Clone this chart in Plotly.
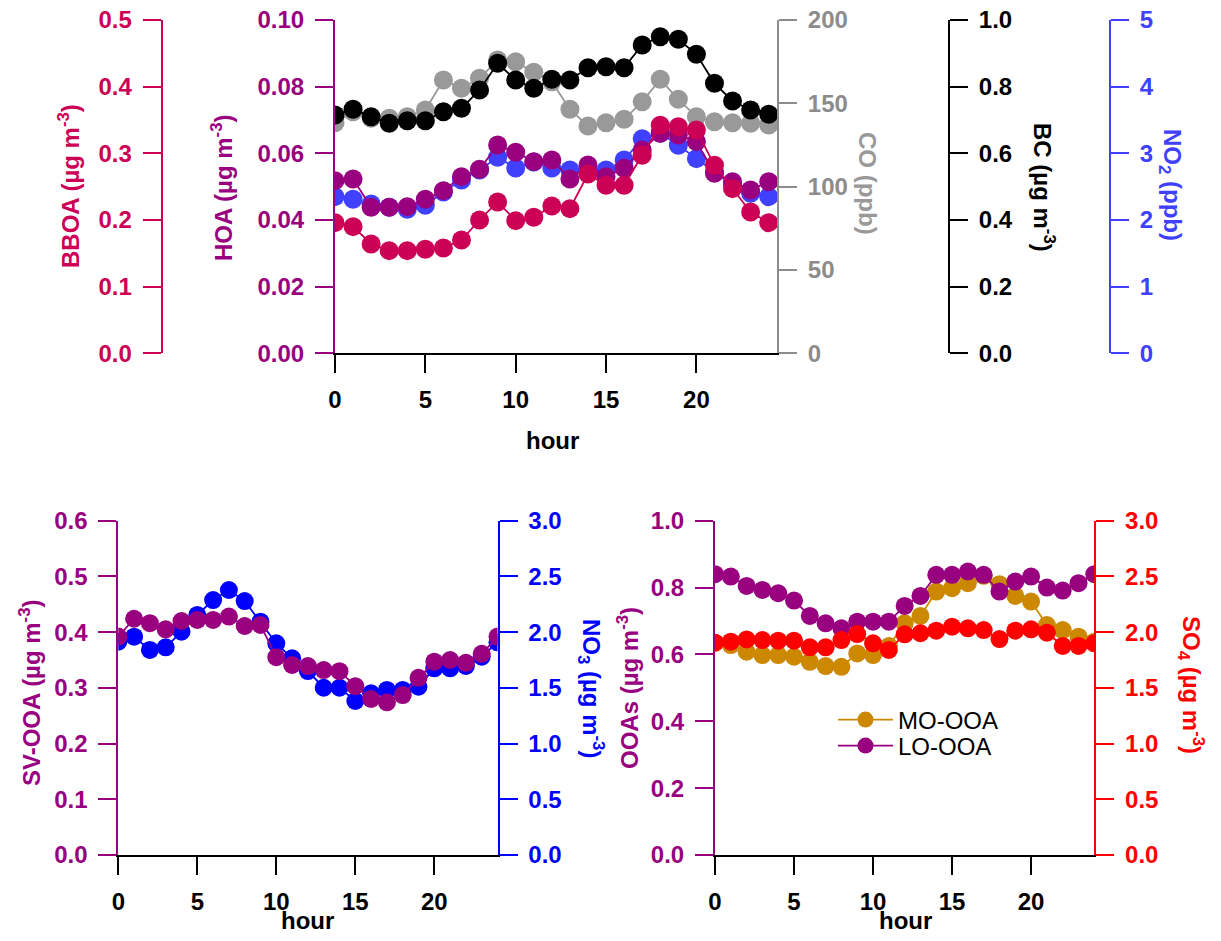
import plotly.graph_objects as go

W, H = 1221, 941

hours = list(range(25))

# ---- top panel data ----
bboa = [0.196, 0.190, 0.164, 0.154, 0.154, 0.156, 0.158, 0.170, 0.200, 0.227, 0.199, 0.204, 0.221,
        0.217, 0.269, 0.252, 0.252, 0.297, 0.342, 0.340, 0.335, 0.282, 0.247, 0.212, 0.196]
hoa = [0.0518, 0.0523, 0.0438, 0.0438, 0.0440, 0.0462, 0.0488, 0.0530, 0.0552, 0.0625, 0.0603, 0.0575, 0.0580,
       0.0523, 0.0565, 0.0530, 0.0555, 0.0610, 0.0660, 0.0655, 0.0635, 0.0540, 0.0515, 0.0490, 0.0515]
co = [138.4, 145.0, 141.0, 141.0, 142.0, 146.0, 164.0, 159.0, 165.0, 176.0, 175.0, 168.6, 163.0,
      146.4, 136.4, 138.4, 140.4, 151.0, 164.4, 152.4, 142.0, 139.0, 138.4, 138.0, 137.0]
bc = [0.715, 0.732, 0.710, 0.690, 0.698, 0.698, 0.725, 0.735, 0.790, 0.870, 0.820, 0.795, 0.822,
      0.820, 0.857, 0.860, 0.857, 0.925, 0.950, 0.942, 0.897, 0.810, 0.757, 0.730, 0.717]
no2 = [2.35, 2.31, 2.24, 2.19, 2.16, 2.22, 2.42, 2.60, 2.75, 2.94, 2.78, 2.87, 2.78,
       2.75, 2.72, 2.75, 2.90, 3.22, 3.30, 3.12, 2.92, 2.72, 2.52, 2.40, 2.35]

# ---- bottom-left data ----
svooa = [0.392, 0.424, 0.416, 0.405, 0.420, 0.422, 0.422, 0.428, 0.411, 0.413, 0.355, 0.341, 0.339,
         0.332, 0.330, 0.303, 0.280, 0.274, 0.287, 0.318, 0.347, 0.350, 0.345, 0.361, 0.392]
no3 = [1.914, 1.959, 1.840, 1.864, 2.004, 2.154, 2.288, 2.378, 2.279, 2.094, 1.900, 1.765, 1.651,
       1.501, 1.501, 1.382, 1.451, 1.481, 1.481, 1.510, 1.675, 1.675, 1.696, 1.780, 1.909]

# ---- bottom-right data ----
mo_ooa = [0.635, 0.628, 0.608, 0.598, 0.598, 0.593, 0.578, 0.565, 0.563, 0.603, 0.598, 0.625, 0.693,
          0.715, 0.788, 0.798, 0.813, 0.835, 0.810, 0.775, 0.758, 0.688, 0.673, 0.653, 0.638]
lo_ooa = [0.840, 0.833, 0.805, 0.793, 0.783, 0.761, 0.715, 0.693, 0.678, 0.698, 0.698, 0.698, 0.745,
          0.775, 0.838, 0.838, 0.848, 0.838, 0.788, 0.818, 0.833, 0.800, 0.791, 0.813, 0.840]
so4 = [1.905, 1.914, 1.935, 1.929, 1.923, 1.923, 1.864, 1.864, 1.929, 1.983, 1.900, 1.840, 1.980,
       1.990, 2.013, 2.049, 2.034, 2.019, 1.938, 2.013, 2.025, 1.995, 1.876, 1.876, 1.900]

C_BBOA = "rgb(204,0,85)"
C_PUR = "rgb(153,0,128)"
C_CO = "rgb(153,153,153)"
C_COAX = "rgb(140,140,140)"
C_BC = "black"
C_NO2 = "rgb(64,64,255)"
C_NO3 = "rgb(0,0,255)"
C_MO = "rgb(204,136,0)"
C_SO4 = "rgb(255,0,0)"

FONT = "Liberation Sans"
TICKF = 24
TITF = 24


def px(x):
    return x / W


def py(y):
    return 1 - y / H


fig = go.Figure()


def sc(x, y, color, xa, ya, size, name=None, legend=None):
    kw = {}
    if legend:
        kw["legend"] = legend
    fig.add_trace(go.Scatter(
        x=x, y=y, xaxis=xa, yaxis=ya, mode="lines+markers", name=name,
        showlegend=bool(legend),
        line=dict(color=color, width=1.8),
        marker=dict(color=color, size=size, line=dict(width=0)),
        **kw,
    ))


# top panel: z order CO < BC < NO2 < HOA < BBOA
sc(hours, co, C_CO, "x", "y", 19)
sc(hours, bc, C_BC, "x", "y2", 19)
sc(hours, no2, C_NO2, "x", "y3", 19)
sc(hours, hoa, C_PUR, "x", "y4", 19)
sc(hours, bboa, C_BBOA, "x", "y5", 19)
# bottom-left
sc(hours, no3, C_NO3, "x2", "y6", 18)
sc(hours, svooa, C_PUR, "x2", "y7", 18)
# bottom-right
sc(hours, mo_ooa, C_MO, "x3", "y8", 18, "MO-OOA", "legend")
sc(hours, lo_ooa, C_PUR, "x3", "y8", 18, "LO-OOA", "legend2")
sc(hours, so4, C_SO4, "x3", "y9", 18)


def yax(color, rng, dtick, fmt, side, tickcolor=None, **kw):
    d = dict(range=rng, dtick=dtick, tick0=0, tickformat=fmt, side=side,
             showline=True, linecolor=color, linewidth=2,
             ticks="outside", ticklen=18, tickwidth=2, tickcolor=color,
             tickfont=dict(family=FONT, size=TICKF, color=tickcolor or color, weight="bold"),
             showgrid=False, zeroline=False, ticklabelstandoff=6, automargin=False)
    d.update(kw)
    return d


def xax(dom, rng, anchor):
    return dict(domain=dom, range=rng, tickvals=[0, 5, 10, 15, 20], anchor=anchor,
                showline=True, linecolor="black", linewidth=2,
                ticks="outside", ticklen=18, tickwidth=2, tickcolor="black",
                tickfont=dict(family=FONT, size=TICKF, color="black", weight="bold"),
                showgrid=False, zeroline=False, ticklabelstandoff=6, automargin=False)


top_dom = [py(353.3), py(20)]
bot_dom = [py(855), py(520.7)]

xd1 = [px(335), px(777)]
xd2 = [px(118.3), px(497.5)]
xd3 = [px(715), px(1094.3)]

leg = dict(xanchor="left", yanchor="middle", bgcolor="rgba(0,0,0,0)",
           font=dict(family=FONT, size=24, color="black"), itemwidth=55)

fig.update_layout(
    width=W, height=H,
    margin=dict(l=0, r=0, t=0, b=0, autoexpand=False),
    paper_bgcolor="white", plot_bgcolor="rgba(0,0,0,0)",
    font=dict(family=FONT, size=TICKF, color="black"),
    xaxis=xax(xd1, [0, (777 - 335) / 18.07], "y"),
    xaxis2=xax(xd2, [0, 24], "y6"),
    xaxis3=xax(xd3, [0, 24], "y8"),
    yaxis=yax(C_COAX, [0, 200], 50, "d", "right", domain=top_dom, anchor="x"),
    yaxis2=yax(C_BC, [0, 1.0], 0.2, ".1f", "right", overlaying="y", anchor="free", position=px(949)),
    yaxis3=yax(C_NO2, [0, 5], 1, "d", "right", overlaying="y", anchor="free", position=px(1110)),
    yaxis4=yax(C_PUR, [0, 0.1], 0.02, ".2f", "left", overlaying="y", anchor="x"),
    yaxis5=yax(C_BBOA, [0, 0.5], 0.1, ".1f", "left", overlaying="y", anchor="free", position=px(161.7)),
    yaxis6=yax(C_NO3, [0, 3.0], 0.5, ".1f", "right", domain=bot_dom, anchor="x2"),
    yaxis7=yax(C_PUR, [0, 0.6], 0.1, ".1f", "left", overlaying="y6", anchor="x2"),
    yaxis8=yax(C_PUR, [0, 1.0], 0.2, ".1f", "left", domain=bot_dom, anchor="x3"),
    yaxis9=yax(C_SO4, [0, 3.0], 0.5, ".1f", "right", overlaying="y8", anchor="x3"),
    legend=dict(x=px(833), y=py(720), **leg),
    legend2=dict(x=px(833), y=py(746), **leg),
)

titles = [
    ("BBOA (µg m<sup>-3</sup>)", 69, 186, C_BBOA, -90),
    ("HOA (µg m<sup>-3</sup>)", 222, 188, C_PUR, -90),
    ("CO (ppb)", 868, 183, C_CO, 90),
    ("BC (µg m<sup>-3</sup>)", 1044, 187, C_BC, 90),
    ("NO<sub>2</sub> (ppb)", 1170, 185, C_NO2, 90),
    ("hour", 552, 440, "black", 0),
    ("SV-OOA (µg m<sup>-3</sup>)", 30, 693, C_PUR, -90),
    ("NO<sub>3</sub> (µg m<sup>-3</sup>)", 591, 688, C_NO3, 90),
    ("OOAs (µg m<sup>-3</sup>)", 628, 688, C_PUR, -90),
    ("SO<sub>4</sub> (µg m<sup>-3</sup>)", 1191, 685, C_SO4, 90),
    ("hour", 307, 920, "black", 0),
    ("hour", 905, 920, "black", 0),
]
for txt, x, y, col, ang in titles:
    fig.add_annotation(text=txt, x=px(x), y=py(y), xref="paper", yref="paper",
                       xanchor="center", yanchor="middle", showarrow=False, textangle=ang,
                       font=dict(family=FONT, size=TITF, color=col, weight="bold"))

fig.write_html("out.html")
